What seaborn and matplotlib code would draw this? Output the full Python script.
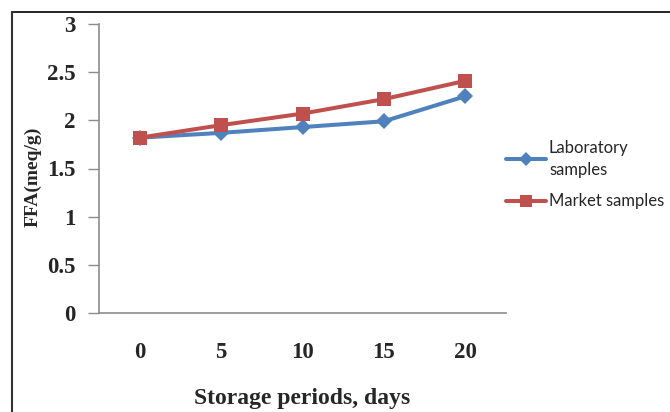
import matplotlib
matplotlib.use("Agg")
import matplotlib.pyplot as plt
from matplotlib.lines import Line2D
import seaborn as sns
import pandas as pd

days = ["0", "5", "10", "15", "20"]
laboratory = [1.82, 1.87, 1.93, 1.99, 2.25]
market = [1.82, 1.95, 2.07, 2.22, 2.41]
series_names = ["Laboratory\nsamples", "Market samples"]

df = pd.DataFrame({
    "pos": list(range(len(days))) * 2,
    "FFA": laboratory + market,
    "series": [series_names[0]] * len(days) + [series_names[1]] * len(days),
})

sns.set_style("white")
W, H = 670, 412
fig = plt.figure(figsize=(W / 100, H / 100), dpi=100)
ax = fig.add_axes([99 / W, (H - 313) / H, (506 - 99) / W, (313 - 24) / H])

palette = {series_names[0]: "#4F81BD", series_names[1]: "#C0504D"}
markers = {series_names[0]: "D", series_names[1]: "s"}
sns.lineplot(data=df, x="pos", y="FFA", hue="series", style="series",
             palette=palette, markers=markers, dashes=False, linewidth=2.9,
             markersize=10.5, markeredgewidth=0, legend=False, ax=ax)

# Diamond markers slightly smaller than squares
for line in ax.get_lines():
    if line.get_marker() == "D":
        line.set_markersize(8)

ax.set_xlim(-0.5, len(days) - 0.5)
ax.set_ylim(0, 3)
ax.set_xticks(range(len(days)))
ax.set_xticklabels(days)
ax.set_yticks([0, 0.5, 1, 1.5, 2, 2.5, 3])
ax.set_yticklabels(["0", "0.5", "1", "1.5", "2", "2.5", "3"])

serif = "Liberation Serif"
for lab in ax.get_xticklabels() + ax.get_yticklabels():
    lab.set_fontfamily(serif)
    lab.set_fontweight("bold")
    lab.set_fontsize(16.5)

ax.tick_params(axis="x", length=0, pad=21)
ax.tick_params(axis="y", length=8, width=1, color="#8c8c8c", direction="out", pad=9, left=True)

for side in ["top", "right"]:
    ax.spines[side].set_visible(False)
for side in ["left", "bottom"]:
    ax.spines[side].set_color("#8c8c8c")
    ax.spines[side].set_linewidth(1.2)

ax.set_xlabel("Storage periods, days", fontfamily=serif, fontweight="bold", fontsize=17, labelpad=18)
ax.set_ylabel("FFA(meq/g)", fontfamily=serif, fontweight="bold", fontsize=14)
ax.yaxis.set_label_coords((42 - 99) / (506 - 99), (313 - 177) / (313 - 24))

leg_handles = [
    Line2D([], [], color="#4F81BD", marker="D", markersize=7, linewidth=2.9, markeredgewidth=0),
    Line2D([], [], color="#C0504D", marker="s", markersize=8, linewidth=2.9, markeredgewidth=0),
]
leg = fig.legend(leg_handles, series_names, loc="upper left",
                 bbox_to_anchor=(499 / W, (H - 133) / H), frameon=False,
                 prop={"family": "Lato", "size": 12}, handlelength=2.4,
                 handletextpad=0.2, labelspacing=0.95, borderaxespad=0)
for t in leg.get_texts():
    t.set_linespacing(1.45)

# Outer chart frame (top and left edges)
fig.add_artist(Line2D([12 / W, 1], [(H - 12) / H, (H - 12) / H], color="black", linewidth=1.2, transform=fig.transFigure))
fig.add_artist(Line2D([12.5 / W, 12.5 / W], [0, (H - 12) / H], color="#333333", linewidth=1.5, transform=fig.transFigure))

fig.savefig("out.png", dpi=100)
